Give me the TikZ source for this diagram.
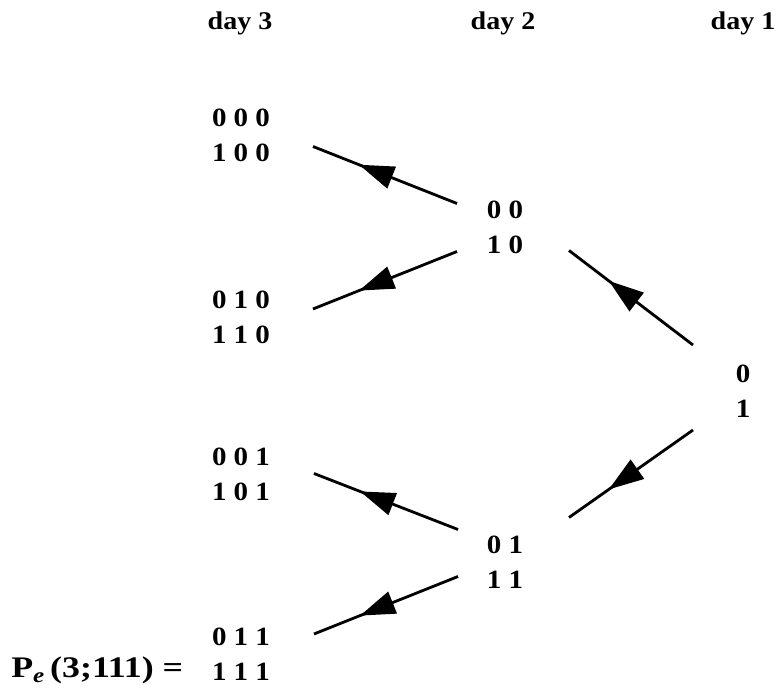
\documentclass[tikz,border=0pt]{standalone}
\usepackage{fontspec}
\setmainfont{Liberation Serif}[FakeStretch=1.1]
\newfontfamily\widefont{Liberation Serif}[FakeStretch=1.2]
\usetikzlibrary{arrows.meta,decorations.markings}

\begin{document}
\begin{tikzpicture}[
    bits/.style={align=center, inner sep=0pt, font=\fontsize{15}{20}\selectfont\bfseries},
    dayhead/.style={inner sep=0pt, font=\fontsize{14.5}{18}\selectfont\bfseries},
    flow/.style={line width=1.6pt, postaction={decorate},
        decoration={markings, mark=at position 0.68 with {\arrow{Triangle[length=0.7cm, width=0.46cm]}}}}
]
    \useasboundingbox (0,0) rectangle (15.56,-13.78);

    % column heads
    \node[dayhead] (head3) at (4.8,-0.46) {day 3};
    \node[dayhead] (head2) at (10.06,-0.46) {day 2};
    \node[dayhead] (head1) at (14.86,-0.46) {day 1};

    % histories on day 3
    \node[bits] (d3a) at (4.82,-2.71) {0 0 0\\1 0 0};
    \node[bits] (d3b) at (4.82,-6.34) {0 1 0\\1 1 0};
    \node[bits] (d3c) at (4.82,-9.49) {0 0 1\\1 0 1};
    \node[bits] (d3d) at (4.82,-13.08) {0 1 1\\1 1 1};

    % histories on day 2
    \node[bits] (d2a) at (10.1,-4.55) {0 0\\1 0};
    \node[bits] (d2b) at (10.1,-11.25) {0 1\\1 1};

    % day 1
    \node[bits] (d1) at (14.86,-7.82) {0\\1};

    \node[inner sep=0pt, font=\widefont\fontsize{17}{20}\selectfont\bfseries, anchor=base west] (pe)
        at (0.22,-13.55) {P\textsubscript{\textit{e}}\,(3;111) =};

    % day 1 -> day 2
    \draw[flow] ([xshift=-1.0cm,yshift=0.92cm]d1.center) -- ([xshift=1.28cm,yshift=-0.46cm]d2a.center);
    \draw[flow] ([xshift=-1.0cm,yshift=-0.78cm]d1.center) -- ([xshift=1.28cm,yshift=0.9cm]d2b.center);

    % day 2 -> day 3
    \draw[flow] ([xshift=-0.96cm,yshift=0.48cm]d2a.center) -- ([xshift=1.44cm,yshift=-0.22cm]d3a.center);
    \draw[flow] ([xshift=-0.96cm,yshift=-0.48cm]d2a.center) -- ([xshift=1.44cm,yshift=0.16cm]d3b.center);
    \draw[flow] ([xshift=-0.94cm,yshift=0.66cm]d2b.center) -- ([xshift=1.46cm,yshift=0.02cm]d3c.center);
    \draw[flow] ([xshift=-0.94cm,yshift=-0.28cm]d2b.center) -- ([xshift=1.46cm,yshift=0.4cm]d3d.center);
\end{tikzpicture}
\end{document}
